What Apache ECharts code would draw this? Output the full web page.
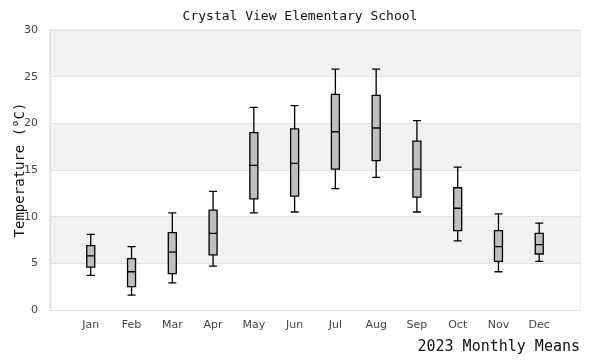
<!DOCTYPE html>
<html><head><meta charset="utf-8">
<script src="https://cdn.jsdelivr.net/npm/echarts@6/dist/echarts.min.js"></script>
<style>html,body{margin:0;padding:0;background:#fff}#c{width:600px;height:360px}</style>
</head><body><div id="c"></div>
<script>
const months = ['Jan','Feb','Mar','Apr','May','Jun','Jul','Aug','Sep','Oct','Nov','Dec'];
const lowWhisker = [3.7, 1.6, 2.9, 4.7, 10.4, 10.5, 13.0, 14.2, 10.5, 7.4, 4.1, 5.2];
const q1 =         [4.6, 2.5, 3.9, 5.9, 11.9, 12.2, 15.1, 16.0, 12.1, 8.5, 5.2, 6.0];
const median =     [5.8, 4.1, 6.2, 8.2, 15.5, 15.7, 19.1, 19.5, 15.1, 10.9, 6.8, 7.0];
const q3 =         [6.9, 5.5, 8.3, 10.7, 19.0, 19.4, 23.1, 23.0, 18.1, 13.1, 8.5, 8.2];
const highWhisker =[8.1, 6.8, 10.4, 12.7, 21.7, 21.9, 25.8, 25.8, 20.3, 15.3, 10.3, 9.3];
const yTicks = [0, 5, 10, 15, 20, 25, 30];

// padded category list: one empty slot at each end so the months sit inset from the frame
const categories = [''].concat(months, ['']);
const boxData = ['-'].concat(months.map((m, i) => [lowWhisker[i], q1[i], median[i], q3[i], highWhisker[i]]), ['-']);
const mono = '"DejaVu Sans Mono", monospace';
const chart = echarts.init(document.getElementById('c'));
chart.setOption({
  animation: false,
  backgroundColor: '#fff',
  title: {
    text: 'Crystal View Elementary School', left: 'center', top: 5,
    textStyle: { fontFamily: mono, fontSize: 13, fontWeight: 'normal', color: '#111' }
  },
  grid: { left: 50, right: 20, top: 30, bottom: 50, containLabel: false, outerBoundsMode: 'none',
          show: true, borderColor: '#dcdcdc', borderWidth: 1, backgroundColor: 'transparent' },
  xAxis: {
    type: 'category', data: categories, boundaryGap: false,
    axisLine: { lineStyle: { color: '#dcdcdc' } },
    axisTick: { show: false },
    axisLabel: { color: '#444', fontSize: 11, fontFamily: '"DejaVu Sans", sans-serif', margin: 10, interval: 0 },
    splitLine: { show: false },
    name: '2023 Monthly Means', nameLocation: 'end', nameGap: 0, nameMoveOverlap: false,
    nameTextStyle: { fontFamily: mono, fontSize: 15, color: '#111', align: 'right', verticalAlign: 'top', padding: [30, 0, 0, 0] }
  },
  yAxis: {
    type: 'value', min: yTicks[0], max: yTicks[yTicks.length - 1], interval: 5,
    axisLine: { show: true, lineStyle: { color: '#dcdcdc' } },
    axisTick: { show: false },
    axisLabel: { color: '#444', fontSize: 11, fontFamily: '"DejaVu Sans", sans-serif', margin: 12 },
    splitLine: { show: true, lineStyle: { color: '#e2e2e2' } },
    splitArea: { show: true, areaStyle: { color: ['#ffffff', '#f2f2f2'] } },
    name: 'Temperature (°C)', nameLocation: 'middle', nameGap: 23, nameMoveOverlap: false,
    nameTextStyle: { fontFamily: mono, fontSize: 14, color: '#111' }
  },
  series: [{
    type: 'boxplot', data: boxData,
    boxWidth: [8, 8],
    itemStyle: { color: '#bfbfbf', borderColor: '#000', borderWidth: 1.3 }
  }]
});
</script></body></html>
